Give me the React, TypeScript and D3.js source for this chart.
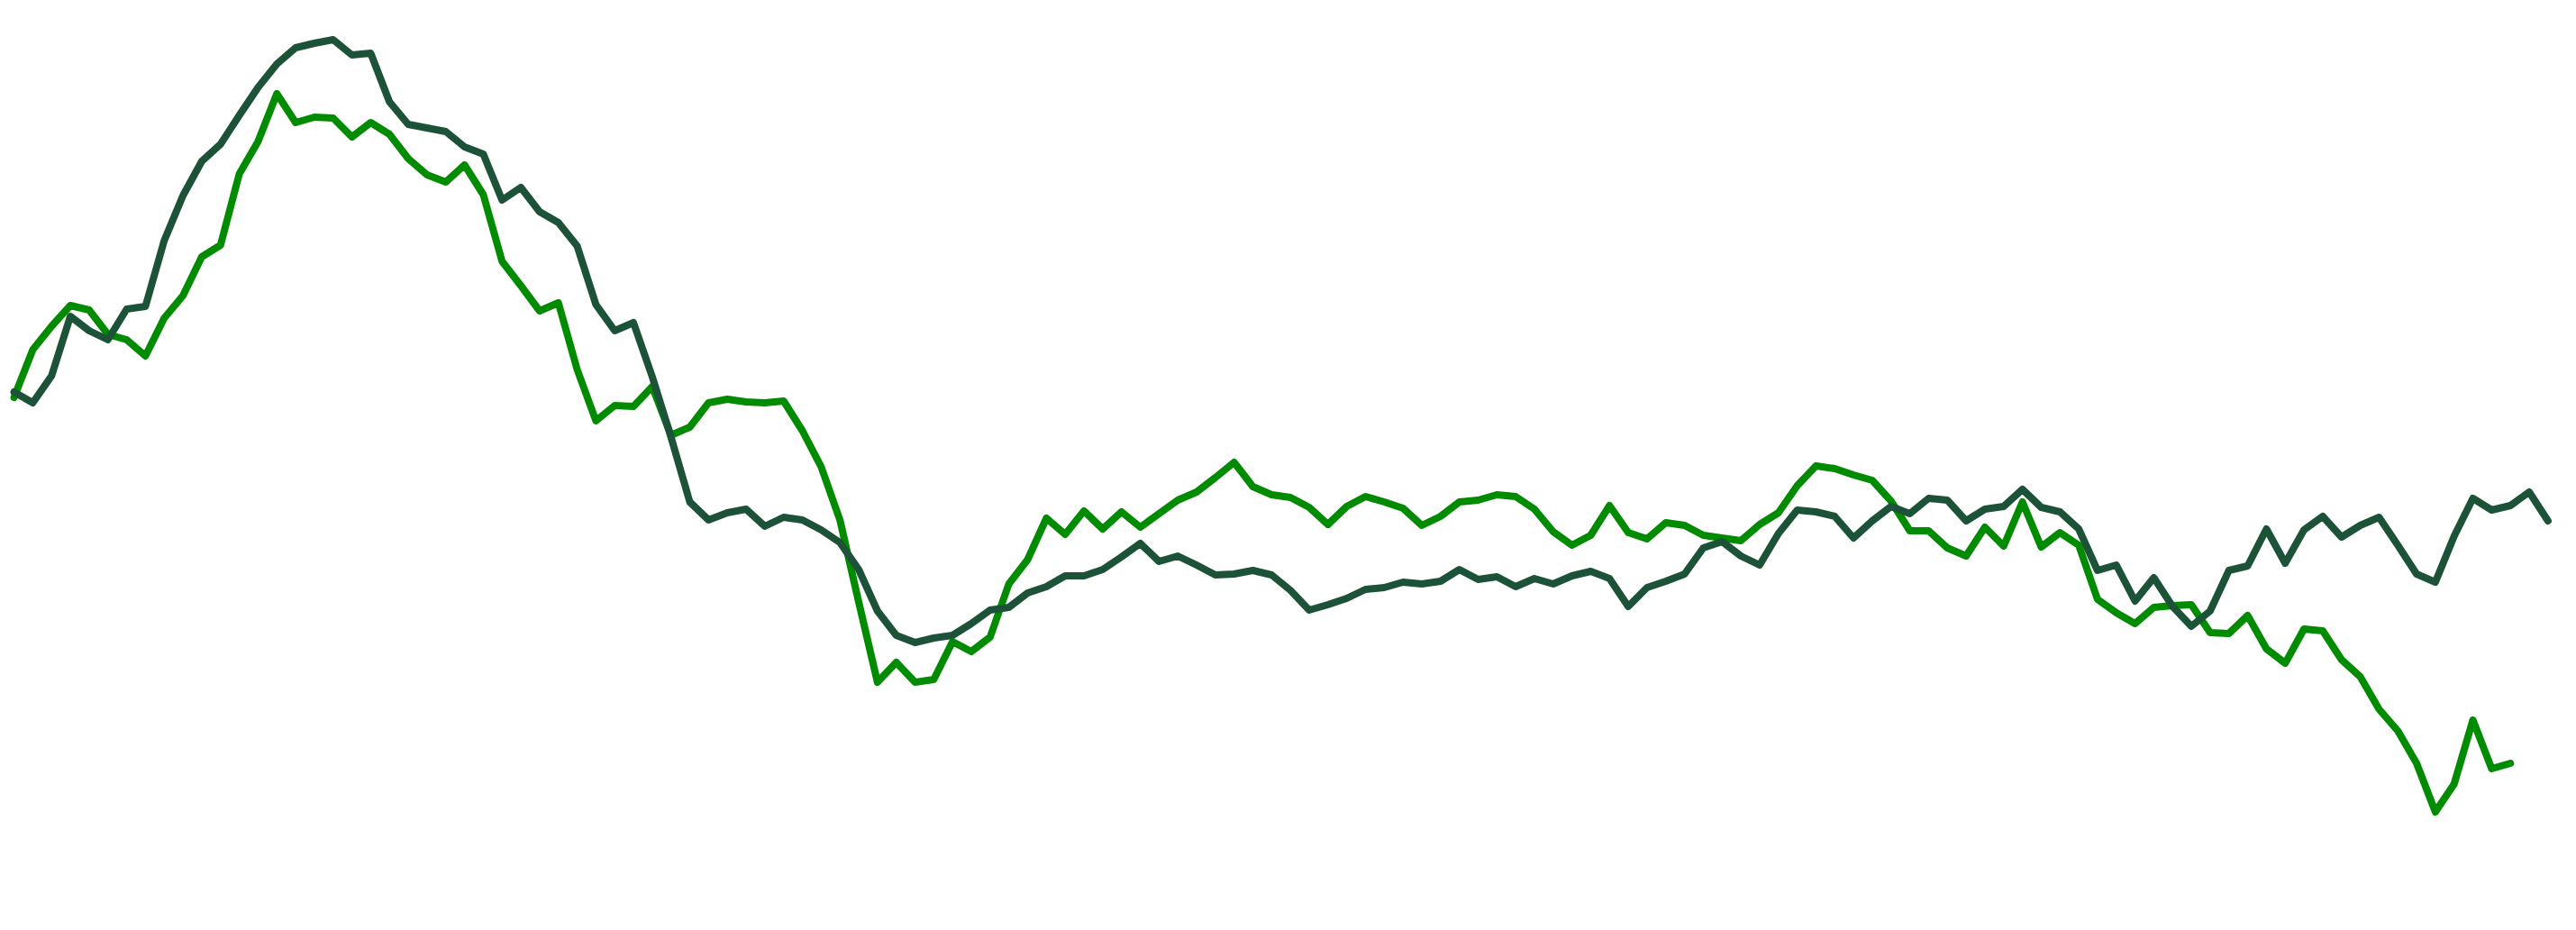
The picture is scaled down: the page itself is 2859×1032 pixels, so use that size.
import * as d3 from 'd3';

const WIDTH = 2859;
const HEIGHT = 1032;

// two series sampled on the same index axis; the light one stops two steps early
const darkSeries = [
  565, 553, 583, 649, 633, 623, 657, 660, 733, 783,
  821, 840, 872, 903, 929, 947, 952, 956, 939, 941,
  887, 862, 858, 854, 837, 829, 778, 792, 765, 753,
  727, 662, 633, 642, 582, 515, 443, 423, 431, 435,
  416, 426, 423, 412, 398, 368, 322, 295, 287, 292,
  295, 308, 323, 326, 342, 349, 361, 361, 368, 382,
  397, 377, 383, 373, 362, 363, 367, 362, 345, 323,
  329, 336, 346, 348, 354, 352, 355, 368, 357, 360,
  349, 358, 352, 361, 366, 358, 327, 348, 355, 363,
  392, 399, 383, 373, 408, 434, 432, 427, 403, 422,
  438, 430, 447, 445, 422, 435, 438, 457, 437, 432,
  413, 367, 373, 333, 359, 327, 305, 322, 367, 372,
  413, 375, 412, 427, 404, 417, 426, 395, 363, 354,
  405, 447, 434, 439, 454, 422,
];

const greenSeries = [
  559, 612, 638, 661, 656, 629, 623, 605, 647, 672,
  715, 728, 807, 843, 896, 864, 870, 869, 848, 864,
  851, 824, 806, 798, 817, 784, 710, 683, 655, 664,
  590, 533, 550, 549, 571, 517, 526, 553, 557, 554,
  553, 555, 522, 482, 423, 332, 243, 265, 243, 246,
  288, 277, 293, 352, 379, 425, 407, 433, 413, 432,
  415, 430, 445, 454, 470, 487, 460, 451, 448, 437,
  418, 438, 449, 443, 436, 417, 427, 443, 445, 451,
  449, 435, 410, 395, 406, 439, 409, 402, 420, 417,
  406, 403, 400, 418, 431, 461, 483, 480, 473, 467,
  444, 411, 411, 392, 383, 415, 394, 443, 393, 409,
  395, 335, 320, 308, 326, 328, 329, 298, 297, 317,
  280, 264, 302, 300, 268, 249, 213, 189, 153, 99,
  130, 201, 147, 153,
];

const seriesColors = ['#008b00', '#1c5338'];

export default function App() {
  const x = d3.scaleLinear()
    .domain([0, darkSeries.length - 1])
    .range([15.6, 2827.9]);
  const y = d3.scaleLinear()
    .domain([0, 1000])
    .range([1000, 0]);

  const line = d3.line<number>()
    .x((_, i) => x(i))
    .y(d => y(d));

  // light green underneath, dark on top
  const series = [greenSeries, darkSeries];

  return (
    <svg
      width={WIDTH}
      height={HEIGHT}
      style={{ position: 'absolute', left: 0, top: 0, background: '#fff' }}
    >
      {series.map((values, i) => (
        <path
          key={i}
          d={line(values) ?? ''}
          fill="none"
          stroke={seriesColors[i]}
          strokeWidth={8}
          strokeLinejoin="round"
          strokeLinecap="round"
        />
      ))}
    </svg>
  );
}
